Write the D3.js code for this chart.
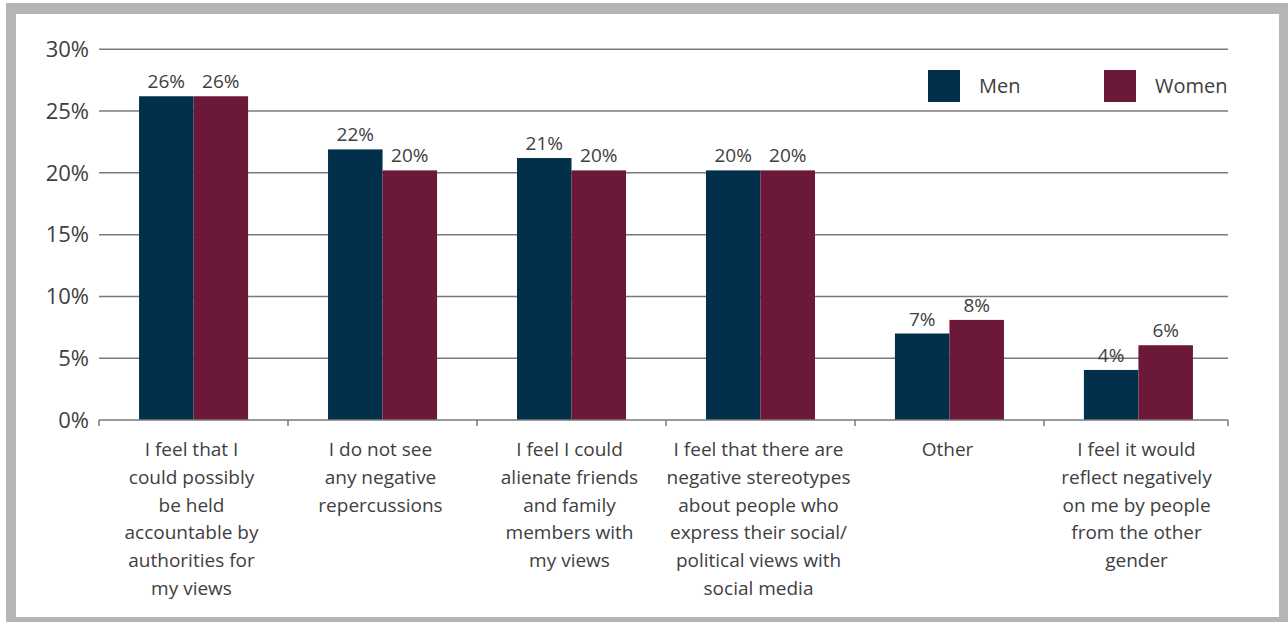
<!DOCTYPE html>
<html><head><meta charset="utf-8">
<script src="https://cdn.jsdelivr.net/npm/d3@7/dist/d3.min.js"></script>
<style>
html,body{margin:0;padding:0;background:#fff;}
svg{display:block;}
text{font-family:"Open Sans",sans-serif;fill:#404040;}
</style></head>
<body>
<svg id="chart" width="1288" height="622"></svg>
<script>
const categories = [
  ["I feel that I","could possibly","be held","accountable by","authorities for","my views"],
  ["I do not see","any negative","repercussions"],
  ["I feel I could","alienate friends","and family","members with","my views"],
  ["I feel that there are","negative stereotypes","about people who","express their social/","political views with","social media"],
  ["Other"],
  ["I feel it would","reflect negatively","on me by people","from the other","gender"]
];
const seriesNames = ["Men","Women"];
const menValues = [26.2, 21.9, 21.2, 20.2, 7.0, 4.05];
const womenValues = [26.2, 20.2, 20.2, 20.2, 8.1, 6.05];
const menLabels = ["26%","22%","21%","20%","7%","4%"];
const womenLabels = ["26%","20%","20%","20%","8%","6%"];
const yTicks = [0,5,10,15,20,25,30];
const colors = ["#02304a","#6c1838"];

(function(){
const svg = d3.select("#chart");
// frame
svg.append("rect").attr("x",6).attr("y",3).attr("width",1290).attr("height",630).attr("fill","#b4b5b4");
svg.append("rect").attr("x",16).attr("y",14).attr("width",1263).attr("height",603).attr("fill","#fff");

const pL = 99, pR = 1228, pT = 49.3, pB = 420, bandEnd = 1233;
const y = d3.scaleLinear().domain([0,30]).range([pB, pT]);
const idx = d3.range(categories.length);
const x0 = d3.scaleBand().domain(idx).range([pL,bandEnd]).paddingInner(0.423).paddingOuter(0.212);
const x1 = d3.scaleBand().domain([0,1]).range([0,x0.bandwidth()]);

// gridlines
svg.append("g").selectAll("line").data(yTicks.filter(d=>d>0)).join("line")
  .attr("x1",pL).attr("x2",pR).attr("y1",d=>y(d)).attr("y2",d=>y(d))
  .attr("stroke","#7a7a7a").attr("stroke-width",1.5);

// y tick labels
svg.append("g").selectAll("text").data(yTicks).join("text")
  .attr("x",89).attr("y",d=>y(d)).attr("dy","0.35em").attr("text-anchor","end")
  .style("font-size","22px").text(d=>d+"%");

// bars
const data = idx.map(i=>({i, vals:[menValues[i],womenValues[i]], labs:[menLabels[i],womenLabels[i]]}));
const g = svg.append("g").selectAll("g").data(data).join("g")
  .attr("transform",d=>`translate(${x0(d.i)},0)`);
g.selectAll("rect").data(d=>d.vals.map((v,k)=>({v,k}))).join("rect")
  .attr("x",d=>x1(d.k)).attr("width",x1.bandwidth())
  .attr("y",d=>y(d.v)).attr("height",d=>pB-y(d.v))
  .attr("fill",d=>colors[d.k]);
g.selectAll("text").data(d=>d.vals.map((v,k)=>({v,k,l:d.labs[k]}))).join("text")
  .attr("x",d=>x1(d.k)+x1.bandwidth()/2).attr("y",d=>y(d.v)-8)
  .attr("text-anchor","middle").style("font-size","19px").text(d=>d.l);

// x axis
const xb = d3.scaleLinear().domain([0,categories.length]).range([pL,bandEnd]);
svg.append("line").attr("x1",pL).attr("x2",pR).attr("y1",pB).attr("y2",pB)
  .attr("stroke","#7a7a7a").attr("stroke-width",1.5);
svg.append("g").selectAll("line").data(d3.range(categories.length+1)).join("line")
  .attr("x1",d=>Math.min(xb(d),pR)).attr("x2",d=>Math.min(xb(d),pR)).attr("y1",pB).attr("y2",pB+6)
  .attr("stroke","#7a7a7a").attr("stroke-width",1.5);

// category labels
const cl = svg.append("g").selectAll("text").data(categories).join("text")
  .attr("text-anchor","middle").style("font-size","19px")
  .attr("transform",(d,i)=>`translate(${xb(i+0.5)-2},${456})`);
cl.selectAll("tspan").data(d=>d).join("tspan")
  .attr("x",0).attr("y",(d,j)=>j*27.8).text(d=>d);

// legend
const leg = svg.append("g").selectAll("g").data(seriesNames).join("g")
  .attr("transform",(d,i)=>`translate(${928+i*176},70)`);
leg.append("rect").attr("width",32).attr("height",32).attr("fill",(d,i)=>colors[i]);
leg.append("text").attr("x",51).attr("y",16).attr("dy","0.35em").style("font-size","20px").text(d=>d);
})();
</script>
</body></html>
